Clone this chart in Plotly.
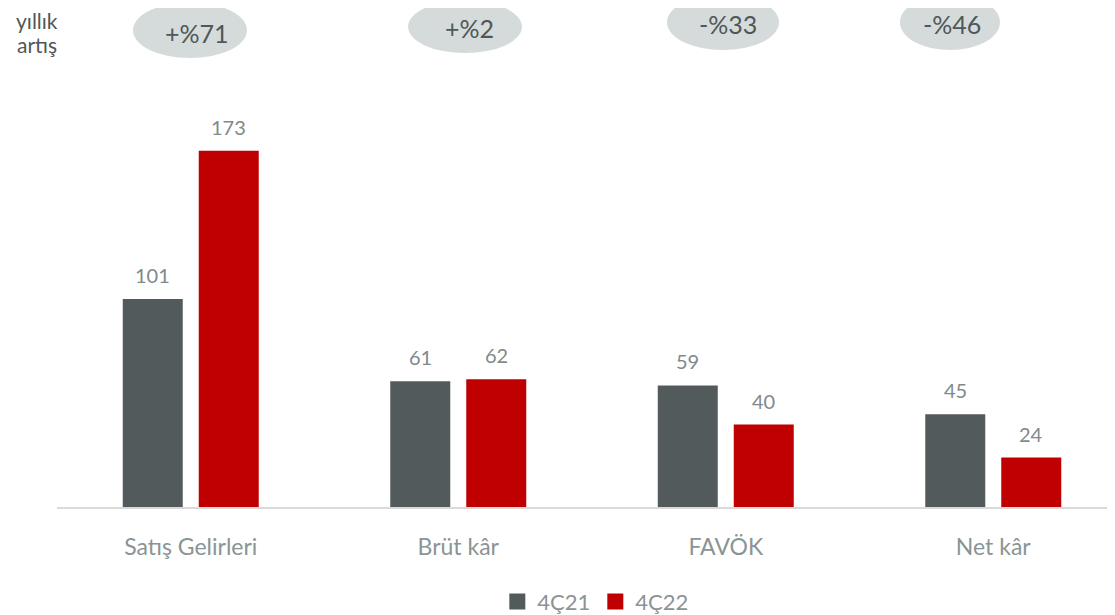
import plotly.graph_objects as go

categories = ["Satış Gelirleri", "Brüt kâr", "FAVÖK", "Net kâr"]
series_names = ["4Ç21", "4Ç22"]
values_4c21 = [101, 61, 59, 45]
values_4c22 = [173, 62, 40, 24]
growth_labels = ["+%71", "+%2", "-%33", "-%46"]
side_label_lines = ["yıllık", "artış"]

FONT = "Lato"
GRAY_BAR = "#525a5b"
RED_BAR = "#c00000"
LABEL_GRAY = "#7f8a8a"
TICK_GRAY = "#8a9494"
DARK_TEXT = "#4f5758"
ELLIPSE_FILL = "#d5dbdb"

fig = go.Figure()
fig.add_trace(go.Bar(x=categories, y=values_4c21, name=series_names[0],
                     marker=dict(color=GRAY_BAR, line=dict(width=0)), showlegend=False))
fig.add_trace(go.Bar(x=categories, y=values_4c22, name=series_names[1],
                     marker=dict(color=RED_BAR, line=dict(width=0)), showlegend=False))
# legend entries with larger square swatches
for nm, col in zip(series_names, [GRAY_BAR, RED_BAR]):
    fig.add_trace(go.Scatter(x=[None], y=[None], mode="markers", name=nm,
                             marker=dict(symbol="square", size=16, color=col)))

annotations = []
for series, shift in [(values_4c21, -38), (values_4c22, 38)]:
    for c, v in zip(categories, series):
        annotations.append(dict(x=c, y=v, xref="x", yref="y", text=str(v),
                                showarrow=False, xshift=shift, yanchor="bottom", yshift=10,
                                font=dict(family=FONT, size=20, color=LABEL_GRAY)))

# growth bubbles (paper coordinates)
ellipse_boxes = [(0.0713, 1.0513, 0.1782, 1.1818),
                 (0.3293, 1.0630, 0.4362, 1.1865),
                 (0.5722, 1.0700, 0.6773, 1.2005),
                 (0.7908, 1.0700, 0.8846, 1.2005)]
text_pos = [(0.1313, 1.1096), (0.3874, 1.1212), (0.6295, 1.1305), (0.8396, 1.1305)]
shapes = []
for (x0, y0, x1, y1) in ellipse_boxes:
    shapes.append(dict(type="circle", xref="paper", yref="paper", x0=x0, y0=y0, x1=x1, y1=y1,
                       fillcolor=ELLIPSE_FILL, line=dict(width=0), layer="below"))
for (tx, ty), lab in zip(text_pos, growth_labels):
    annotations.append(dict(x=tx, y=ty, xref="paper", yref="paper", text=lab, showarrow=False,
                            xanchor="center", yanchor="middle",
                            font=dict(family=FONT, size=25, color=DARK_TEXT)))

for line, ly in zip(side_label_lines, [1.1400, 1.0830]):
    annotations.append(dict(x=-0.0188, y=ly, xref="paper", yref="paper", text=line,
                            showarrow=False, xanchor="center", yanchor="middle",
                            font=dict(family=FONT, size=21, color=DARK_TEXT)))

fig.update_layout(
    width=1115, height=615,
    margin=dict(l=49, r=0, t=72, b=114),
    paper_bgcolor="white", plot_bgcolor="white",
    barmode="group", bargap=0.4318, bargroupgap=0.2105,
    font=dict(family=FONT, color=TICK_GRAY),
    shapes=shapes, annotations=annotations,
    legend=dict(orientation="h", x=0.505, xanchor="center", y=-0.222, yanchor="middle",
                font=dict(family=FONT, size=22, color=TICK_GRAY), itemsizing="trace",
                traceorder="normal"),
)
fig.update_xaxes(range=[-0.5, 3.485], showline=True, linecolor="#d9d9d9", linewidth=1.5,
                 showgrid=False, ticks="", tickfont=dict(family=FONT, size=23, color=TICK_GRAY),
                 ticklabelstandoff=19)
fig.update_yaxes(range=[0, 207.3], visible=False, showgrid=False, zeroline=False)

fig.write_html("out.html")
